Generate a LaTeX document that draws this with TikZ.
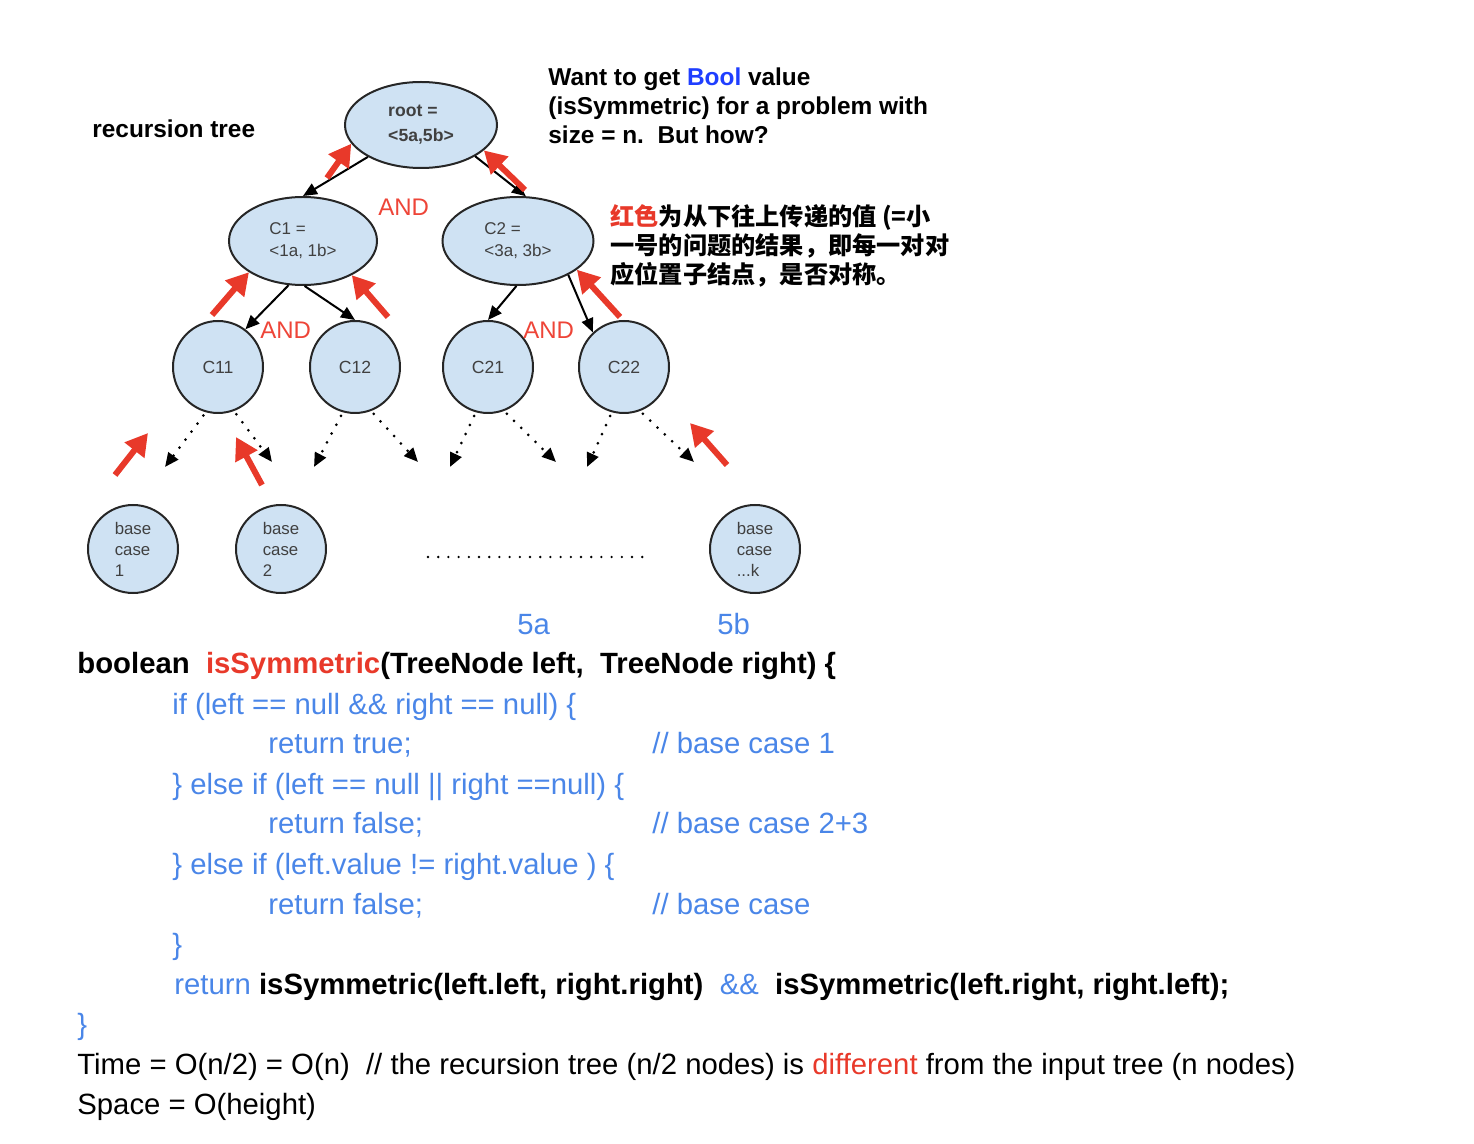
\documentclass[tikz,border=0pt]{standalone}
\usepackage{fontspec}
\setmainfont{Liberation Sans}
\newfontfamily\cjk{Noto Sans CJK SC}
\usetikzlibrary{positioning, arrows.meta, shapes.geometric}
\definecolor{nodefill}{HTML}{CFE2F3}
\definecolor{codeblue}{HTML}{4A86E8}
\definecolor{boolblue}{HTML}{1F3EFF}
\definecolor{hotred}{HTML}{E8392A}
\definecolor{andred}{HTML}{EE4538}

\begin{document}
\begin{tikzpicture}[x=0.5pt, y=-0.5pt,
      tnode/.style={ellipse, draw=black!85, line width=1pt, fill=nodefill, inner sep=0pt,
                    align=left, text=black!75, font=\fontsize{8.5}{11}\selectfont},
      leaf/.style={tnode, minimum width=45pt, minimum height=46pt, font=\fontsize{8.8}{11}\selectfont},
      basecase/.style={tnode, minimum width=45pt, minimum height=44pt, font=\fontsize{8.4}{10.5}\selectfont},
      edge/.style={-{Triangle[length=7pt, width=6pt]}, line width=1pt, black},
      dotarr/.style={-{Triangle[length=7pt, width=6pt]}, line width=1.5pt, line cap=round,
                     dash pattern=on 0pt off 5pt, black},
      uparr/.style={-{Triangle[length=11pt, width=12pt]}, line width=3pt, hotred},
      andlbl/.style={anchor=base west, inner sep=0pt, text=andred, font=\fontsize{12}{14}\selectfont},
      note/.style={anchor=base west, inner sep=0pt, font=\bfseries\fontsize{12.2}{14}\selectfont},
      cnote/.style={anchor=base west, inner sep=0pt, font=\cjk\bfseries\fontsize{12.1}{14}\selectfont},
      code/.style={anchor=base west, inner sep=0pt, font=\fontsize{14.65}{18}\selectfont},
      bcode/.style={code, text=codeblue},
]
\useasboundingbox (0,0) rectangle (1474,1144);

% recursion tree
\node[note] (title) at (92,138) {recursion tree};
\node[tnode, minimum width=76pt, minimum height=43pt,
      font=\bfseries\fontsize{8.8}{12.5}\selectfont] (root) at (421,125) {root =\\<5a,5b>};
\node[tnode, minimum width=74pt, minimum height=44pt] (c1) at (303,241) {C1 =\\<1a, 1b>};
\node[tnode, minimum width=75.5pt, minimum height=44pt] (c2) at (518,241) {C2 =\\<3a, 3b>};
\node[leaf] (c11) at (218,367) {C11};
\node[leaf] (c12) at (355,367) {C12};
\node[leaf] (c21) at (488,367) {C21};
\node[leaf] (c22) at (624,367) {C22};
\node[basecase] (base1) at (133,549) {base\\case\\1};
\node[basecase] (base2) at (281,549) {base\\case\\2};
\node[basecase] (basek) at (755,549) {base\\case\\...k};

\draw[edge] (root.211) -- (c1.north);
\draw[edge] (root.330) -- (c2.80);
\draw[edge] (c1.252) -- (c11.54);
\draw[edge] (c1.272) -- (c12.north);
\draw[edge] (c2.268) -- (c21.north);
\draw[edge] (c2.326) -- (c22.132);

\node[andlbl] (and1) at (378,216) {AND};
\node[andlbl] (and2) at (260,339) {AND};
\node[andlbl] (and3) at (523,339) {AND};

% dotted children
\coordinate (d11a) at (165,467);
\coordinate (d11b) at (272,462);
\coordinate (d12a) at (314,467);
\coordinate (d12b) at (418,462);
\coordinate (d21a) at (450,467);
\coordinate (d21b) at (556,462);
\coordinate (d22a) at (587,467);
\coordinate (d22b) at (694,462);
\draw[dotarr, shorten <=2pt] (c11.255) -- (d11a);
\draw[dotarr, shorten <=2pt] (c11.290) -- (d11b);
\draw[dotarr, shorten <=2pt] (c12.255) -- (d12a);
\draw[dotarr, shorten <=2pt] (c12.290) -- (d12b);
\draw[dotarr, shorten <=2pt] (c21.255) -- (d21a);
\draw[dotarr, shorten <=2pt] (c21.290) -- (d21b);
\draw[dotarr, shorten <=2pt] (c22.255) -- (d22a);
\draw[dotarr, shorten <=2pt] (c22.290) -- (d22b);

\coordinate (gapl) at (428,557);
\coordinate (gapr) at (646,557);
\draw[line width=1.3pt, line cap=round, dash pattern=on 0pt off 5.1pt] (gapl) -- (gapr);

% values passed upwards
\coordinate (r1) at (327,178);
\coordinate (r2) at (525,190);
\coordinate (r3) at (212,315);
\coordinate (r4) at (388,317);
\coordinate (r5) at (620,317);
\draw[uparr] (r1) -- (root.195);
\draw[uparr] (r2) -- (root.338);
\draw[uparr] (r3) -- (c1.210);
\draw[uparr] (r4) -- (c1.325);
\draw[uparr] (r5) -- (c2.334);
\coordinate (r6a) at (115,475);
\coordinate (r6b) at (148,433);
\coordinate (r7a) at (262,485);
\coordinate (r7b) at (236,437);
\coordinate (r8a) at (727,465);
\coordinate (r8b) at (690,423);
\draw[uparr] (r6a) -- (r6b);
\draw[uparr] (r7a) -- (r7b);
\draw[uparr] (r8a) -- (r8b);

% notes
\node[note] (want1) at (548,86) {Want to get \textcolor{boolblue}{Bool} value};
\node[note] (want2) at (548,115) {(isSymmetric) for a problem with};
\node[note] (want3) at (548,144) {size = n.\ \ But how?};
\node[cnote] (cn1) at (610,226) {\textcolor{hotred}{红色}为从下往上传递的值 (=小};
\node[cnote] (cn2) at (610,255) {一号的问题的结果，即每一对对};
\node[cnote] (cn3) at (610,284) {应位置子结点，是否对称。};

\node[code, text=codeblue] (lbla) at (517,635) {5a};
\node[code, text=codeblue] (lblb) at (717,635) {5b};

% code
\node[code, font=\bfseries\fontsize{14.65}{18}\selectfont] (line1) at (77,674)
      {boolean\ \ \textcolor{hotred}{isSymmetric}(TreeNode left,\ \ TreeNode right) \{};
\node[bcode] (line2) at (172,714) {if (left == null \&\& right == null) \{};
\node[bcode] (line3) at (268,754) {return true;};
\node[bcode] (cm3) at (652,754) {// base case 1};
\node[bcode] (line4) at (172,794) {\} else if (left == null || right ==null) \{};
\node[bcode] (line5) at (268,834) {return false;};
\node[bcode] (cm5) at (652,834) {// base case 2+3};
\node[bcode] (line6) at (172,874) {\} else if (left.value != right.value ) \{};
\node[bcode] (line7) at (268,914) {return false;};
\node[bcode] (cm7) at (652,914) {// base case};
\node[bcode] (line8) at (172,954) {\}};
\node[bcode] (line9) at (174,994) {return \textcolor{black}{\bfseries isSymmetric(left.left, right.right)}\ \ \&\&\ \
      \textcolor{black}{\bfseries isSymmetric(left.right, right.left);}};
\node[bcode] (line10) at (77,1034) {\}};
\node[code] (time) at (77,1074) {Time = O(n/2) = O(n)\ \ // the recursion tree (n/2 nodes) is
      \textcolor{hotred}{different} from the input tree (n nodes)};
\node[code] (space) at (77,1114) {Space = O(height)};
\end{tikzpicture}
\end{document}
